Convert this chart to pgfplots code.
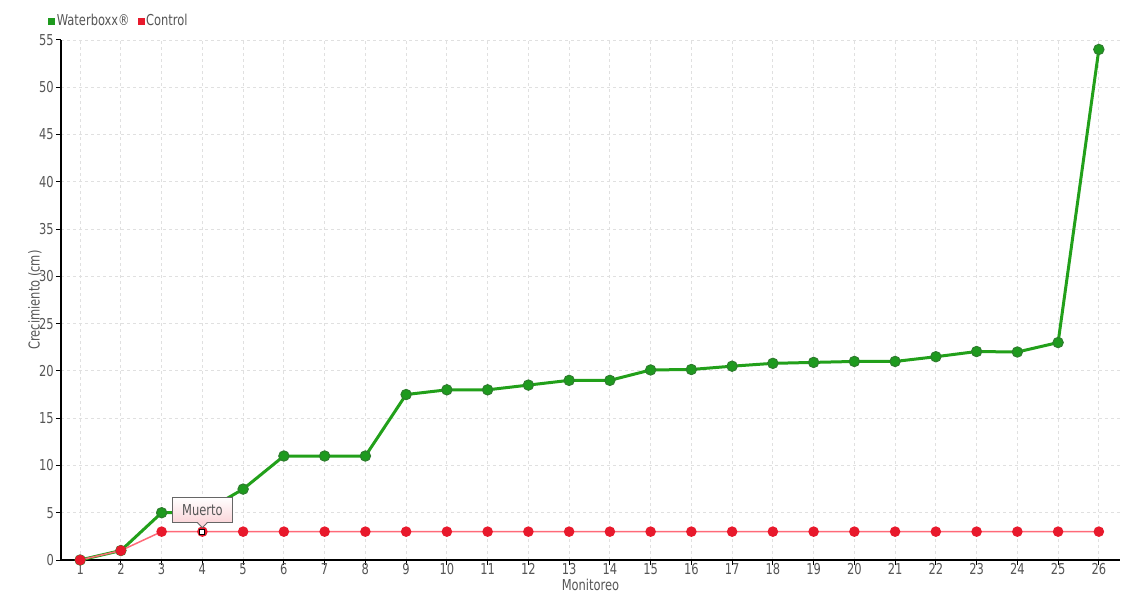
\documentclass[border=0pt]{standalone}
\usepackage{fontspec}
\setmainfont{DejaVu Sans Condensed}[FakeStretch=0.85]
\usepackage{pgfplots}
\pgfplotsset{compat=1.18}
\definecolor{txt}{HTML}{555555}
\definecolor{gline}{HTML}{22A01A}
\definecolor{gmark}{HTML}{1E9A1E}
\definecolor{gedge}{HTML}{2E7D2E}
\definecolor{rline}{HTML}{FF6A78}
\definecolor{rmark}{HTML}{E8192C}
\definecolor{tipb}{HTML}{FBD6DA}
\newcommand\fs{\fontsize{15}{15}\selectfont}
\begin{document}
\begin{tikzpicture}[x=1pt,y=1pt]
\useasboundingbox (-61,-40) rectangle (1079,560);
\begin{axis}[at={(0,0)},anchor=south west, scale only axis, width=1059pt, height=520pt,
 xmin=0.53, xmax=26.52, ymin=0, ymax=55,
 xtick={1,...,26}, ytick={0,5,...,55},
 axis x line=bottom, axis y line=left, axis line style={-, black, line width=1.2pt},
 grid=major, grid style={dashed, black!12, line width=0.9pt},
 tick style={black, line width=1pt}, major tick length=5pt, tick align=outside,
 /pgf/number format/assume math mode=true,
 ticklabel style={font=\fs, text=txt},
 xticklabel style={inner sep=1pt, yshift=2.5pt},
 yticklabel style={inner sep=2pt},
 xlabel={Monitoreo}, ylabel={Crecimiento (cm)},
 label style={font=\fs, text=txt},
 xlabel style={at={(axis description cs:0.5,-0.048)}, anchor=center},
 ylabel style={at={(axis description cs:-0.0246,0.5)}, anchor=center},
 legend style={at={(axis description cs:-0.012,1.037)}, anchor=west, draw=none, fill=none,
   font=\fs, text=txt, legend columns=2,
   /tikz/every even column/.append style={column sep=6pt}, inner sep=0pt},
 legend cell align=left,
 clip=false,
]
\addplot[gline, line width=3pt, mark=*, mark size=5.2pt, mark options={fill=gmark, draw=gedge, line width=1pt}, forget plot] coordinates {
(1,0) (2,1) (3,5) (4,5) (5,7.5) (6,11) (7,11) (8,11) (9,17.5) (10,18) (11,18) (12,18.5) (13,19) (14,19) (15,20.1) (16,20.15) (17,20.5) (18,20.8) (19,20.9) (20,21) (21,21) (22,21.5) (23,22.05) (24,22) (25,23) (26,54)};
\addplot[rline, line width=1.5pt, mark=*, mark size=4.5pt, mark options={fill=rmark, draw=rmark}, forget plot] coordinates {
(1,0) (2,1) (3,3) (4,3) (5,3) (6,3) (7,3) (8,3) (9,3) (10,3) (11,3) (12,3) (13,3) (14,3) (15,3) (16,3) (17,3) (18,3) (19,3) (20,3) (21,3) (22,3) (23,3) (24,3) (25,3) (26,3)};
\addplot[only marks, mark=square*, mark size=2.5pt, mark options={fill=white, draw=black, line width=1.2pt}, forget plot] coordinates {(4,3)};
\addlegendimage{legend image code/.code={\fill[gmark] (0pt,-3pt) rectangle (6pt,3pt);}}
\addlegendentry{Waterboxx®}
\addlegendimage{legend image code/.code={\fill[rmark] (0pt,-3pt) rectangle (6pt,3pt);}}
\addlegendentry{Control}
\coordinate (p4) at (axis cs:4,3);
\end{axis}
\node[anchor=south, draw=black!60, top color=white, bottom color=tipb, minimum width=60pt, minimum height=25pt, inner sep=0pt, text=txt, font=\fs, line width=0.8pt] (tt) at ([yshift=9pt]p4) {Muerto};
\fill[tipb] ([xshift=-4.6pt,yshift=0.6pt]tt.south) -- ([yshift=4pt]p4) -- ([xshift=4.6pt,yshift=0.6pt]tt.south) -- cycle;
\draw[black!60, line width=0.8pt] ([xshift=-5pt]tt.south) -- ([yshift=4pt]p4) -- ([xshift=5pt]tt.south);
\end{tikzpicture}
\end{document}
